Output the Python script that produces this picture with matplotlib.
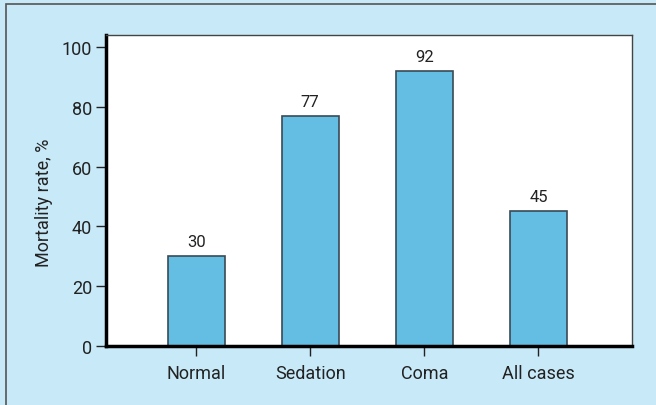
import matplotlib.pyplot as plt
from matplotlib.patches import Rectangle

categories = ['Normal', 'Sedation', 'Coma', 'All cases']
mortality = [30, 77, 92, 45]

plt.rcParams['font.family'] = ['Roboto', 'DejaVu Sans']

bg = '#c8e9f8'
fig = plt.figure(figsize=(6.56, 4.06), dpi=100, facecolor=bg)
# outer frame
fig.patches.append(Rectangle((6 / 656, -0.01), 1.0, 1 - 5 / 406 + 0.01, transform=fig.transFigure,
                             fill=False, edgecolor='#555555', linewidth=1.2))

ax = fig.add_axes([106 / 656, 1 - 347 / 406, 526 / 656, 311 / 406])
ax.set_facecolor('white')

x = range(len(categories))
bars = ax.bar(x, mortality, width=0.5, color='#64bde2', edgecolor='#3a4a55', linewidth=1.2)
for b, v in zip(bars, mortality):
    ax.annotate(str(v), (b.get_x() + b.get_width() / 2, v), xytext=(0, 5),
                textcoords='offset points', ha='center', va='bottom', fontsize=12, color='#222222')

ax.set_xlim(-0.79, 3.82)
ax.set_ylim(0, 104)
ax.set_yticks([0, 20, 40, 60, 80, 100])
ax.set_xticks(list(x))
ax.set_xticklabels(categories)
ax.tick_params(axis='both', labelsize=13, colors='#222222', length=7, width=1, direction='out', pad=3)
ax.tick_params(axis='x', pad=6)
ax.set_ylabel('Mortality rate, %', fontsize=13, color='#222222')
ax.yaxis.set_label_coords(-0.10, 0.463)

for s in ['left', 'bottom']:
    ax.spines[s].set_linewidth(2.5)
    ax.spines[s].set_color('black')
for s in ['top', 'right']:
    ax.spines[s].set_linewidth(1)
    ax.spines[s].set_color('#444444')

fig.savefig('out.png', dpi=100, facecolor=bg)
